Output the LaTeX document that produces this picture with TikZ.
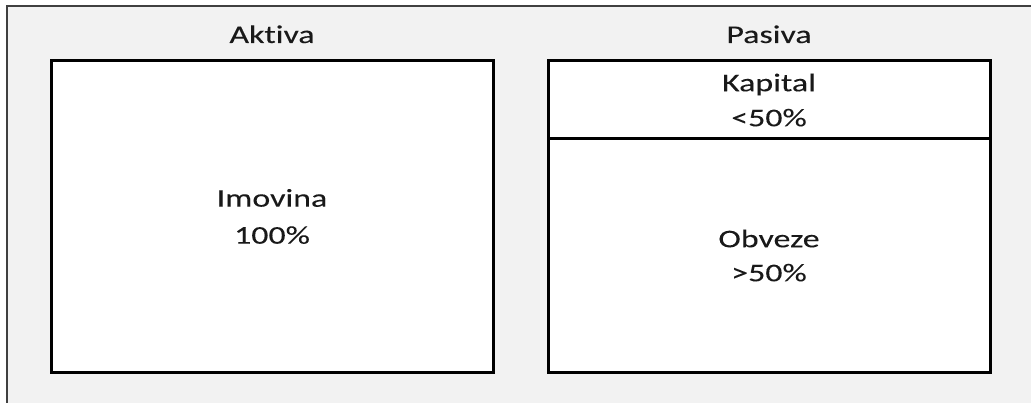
\documentclass[tikz,border=0pt]{standalone}
\usepackage{fontspec}
\setmainfont{Carlito}[FakeStretch=1.33, FakeBold=0.1, RawFeature=-liga]
\begin{document}
\begin{tikzpicture}[x=1pt,y=-1pt,
  panel/.style={draw=black, line width=3pt, fill=white, inner sep=0pt, align=center,
    font=\fontsize{25.5}{37}\selectfont, text=black!90},
  heading/.style={font=\fontsize{25.5}{30}\selectfont, text=black!90, inner sep=0pt, anchor=base}]
\useasboundingbox (0,0) rectangle (1031,403);
\fill[white] (0,0) rectangle (1031,403);
\fill[black!5] (7,6) rectangle (1031,403);
\draw[black!75, line width=1.5pt] (7,403) -- (7,6) -- (1031,6);
\node[panel, minimum width=442pt, minimum height=311pt] (imovina) at (272,216.5) {Imovina\\100\%};
\node[panel, minimum width=442pt, minimum height=78pt] (kapital) at (769,100) {Kapital\\[-2pt]<50\%};
\node[panel, minimum width=442pt, minimum height=233pt] (obveze) at (769,255.5) {Obveze\\[-3pt]>50\%};
\node[heading] (aktiva) at (272,43) {Aktiva};
\node[heading] (pasiva) at (769,43) {Pasiva};
\end{tikzpicture}
\end{document}
